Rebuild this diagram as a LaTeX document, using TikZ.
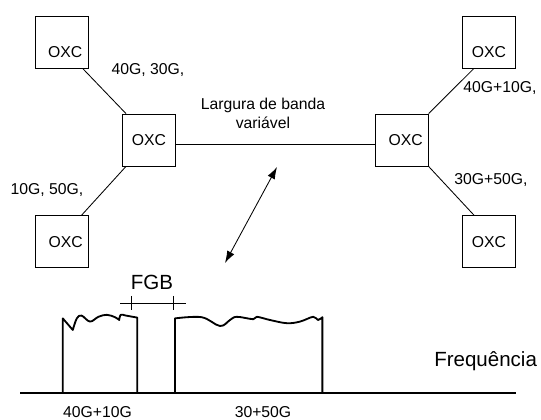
\documentclass[tikz,border=0pt]{standalone}
\usepackage{fontspec}
\setmainfont{Liberation Sans}
\usetikzlibrary{arrows.meta}

\begin{document}
\begin{tikzpicture}[
        oxc/.style={draw, line width=0.6pt, minimum width=1.33cm, minimum height=1.3cm, inner sep=0pt, font=\fontsize{11.2}{13.5}\selectfont},
        rotulo/.style={font=\fontsize{11.2}{13.5}\selectfont},
        grande/.style={font=\fontsize{14.6}{17}\selectfont},
        espectro/.style={line width=1.3pt, line join=round},
        seta/.style={line width=0.6pt, {Latex[length=3mm,width=2mm]}-{Latex[length=3mm,width=2mm]}}]
        \useasboundingbox (0,0) rectangle (13.525,10.5);
        % rede
        \node[oxc] (oxcSE) at (1.54,9.45) {\hspace{1.8mm}\raisebox{-2.5mm}[\height][\depth]{OXC}};
        \node[oxc] (oxcE) at (3.725,7.0) {OXC};
        \node[oxc] (oxcIE) at (1.54,4.46) {\hspace{2mm}OXC};
        \node[oxc] (oxcD) at (10.04,7.0) {\hspace{2mm}OXC};
        \node[oxc] (oxcSD) at (12.225,9.45) {\raisebox{-2.5mm}[\height][\depth]{OXC}};
        \node[oxc] (oxcID) at (12.225,4.46) {OXC};
        \draw[line width=0.6pt] ([xshift=-1.5mm]oxcSE.south east) -- ([xshift=1mm]oxcE.north west);
        \draw[line width=0.6pt] ([xshift=1mm]oxcE.south west) -- ([xshift=-1.75mm]oxcIE.north east);
        \draw[line width=0.6pt] ([yshift=-1mm]oxcE.east) -- ([yshift=-1mm]oxcD.west);
        \draw[line width=0.6pt] (oxcD.north east) -- ([xshift=3mm]oxcSD.south west);
        \draw[line width=0.6pt] (oxcD.south east) -- ([xshift=3mm]oxcID.north west);
        \node[rotulo] (taxaSE) at (3.7,8.75) {40G, 30G,};
        \node[rotulo] (taxaIE) at (1.175,5.75) {10G, 50G,};
        \node[rotulo, align=center] (largura) at (6.575,7.675) {Largura de banda\\variável};
        \node[rotulo] (taxaSD) at (12.5,8.3) {40G+10G,};
        \node[rotulo] (taxaID) at (12.275,6.0) {30G+50G,};
        \coordinate (setaA) at (6.925,6.325);
        \coordinate (setaB) at (5.625,3.925);
        \draw[seta] (setaA) -- (setaB);
        % espectro
        \draw[espectro] (0.5,0.675) -- (12.9,0.675);
        \draw[espectro] (1.57,0.675) -- (1.57,2.54) -- (1.82,2.25)
            -- plot[smooth, tension=0.6] coordinates {(1.82,2.25) (1.92,2.54) (2.04,2.61) (2.25,2.46) (2.46,2.58) (2.67,2.63) (2.875,2.57) (2.98,2.5)}
            -- plot[smooth, tension=0.6] coordinates {(2.98,2.5) (3.02,2.63) (3.15,2.61) (3.43,2.56)}
            -- (3.43,0.675);
        \draw[espectro] (4.375,0.675) -- (4.375,2.54)
            -- plot[smooth, tension=0.6] coordinates {(4.375,2.54) (5.04,2.57) (5.5,2.35) (5.75,2.5) (5.92,2.58) (6.33,2.52) (6.42,2.58) (6.75,2.5) (7.17,2.42) (7.5,2.46) (7.83,2.58) (7.95,2.5) (8.06,2.57)}
            -- (8.06,0.675);
        \draw[line width=0.6pt] (3.0,2.925) -- (4.65,2.925);
        \foreach \x in {3.29,4.325}
            \draw[line width=0.6pt] (\x,3.1) -- (\x,2.75);
        \node[grande] (fgb) at (3.8,3.45) {FGB};
        \node[grande] (freq) at (12.14,1.46) {Frequência};
        \node[rotulo] (banda1) at (2.44,0.2) {40G+10G};
        \node[rotulo] (banda2) at (6.575,0.2) {30+50G};
    \end{tikzpicture}
\end{document}
